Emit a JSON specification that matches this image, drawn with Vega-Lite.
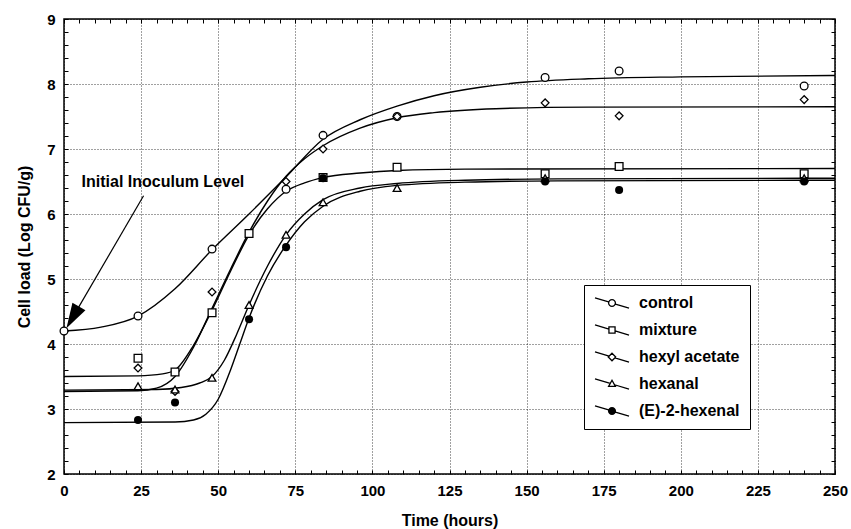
{
  "$schema": "https://vega.github.io/schema/vega-lite/v6.json",
  "width": 771,
  "height": 455,
  "autosize": {"type": "none"},
  "padding": {"left": 64, "top": 19, "right": 16, "bottom": 55},
  "background": "white",
  "config": {
    "view": {"stroke": "black", "strokeWidth": 1.5},
    "font": "Liberation Sans",
    "axis": {
      "labelFont": "Liberation Sans", "labelFontWeight": "bold", "labelFontSize": 15, "labelColor": "black",
      "titleFont": "Liberation Sans", "titleFontWeight": "bold", "titleFontSize": 16, "titleColor": "black",
      "domain": false, "labelFlush": false
    }
  },
  "datasets": {
    "curves": [
      {"series": "control", "t": 0, "v": 4.2}, {"series": "control", "t": 12, "v": 4.26}, {"series": "control", "t": 24, "v": 4.43},
      {"series": "control", "t": 36, "v": 4.85}, {"series": "control", "t": 48, "v": 5.45}, {"series": "control", "t": 60, "v": 6.0},
      {"series": "control", "t": 72, "v": 6.57}, {"series": "control", "t": 84, "v": 7.15}, {"series": "control", "t": 96, "v": 7.45},
      {"series": "control", "t": 108, "v": 7.66}, {"series": "control", "t": 120, "v": 7.82}, {"series": "control", "t": 135, "v": 7.95},
      {"series": "control", "t": 150, "v": 8.03}, {"series": "control", "t": 170, "v": 8.08}, {"series": "control", "t": 200, "v": 8.11},
      {"series": "control", "t": 250, "v": 8.13},
      {"series": "mixture", "t": 0, "v": 3.5}, {"series": "mixture", "t": 24, "v": 3.51}, {"series": "mixture", "t": 32, "v": 3.54},
      {"series": "mixture", "t": 36, "v": 3.6}, {"series": "mixture", "t": 42, "v": 3.98}, {"series": "mixture", "t": 48, "v": 4.52},
      {"series": "mixture", "t": 54, "v": 5.12}, {"series": "mixture", "t": 60, "v": 5.68}, {"series": "mixture", "t": 66, "v": 6.08},
      {"series": "mixture", "t": 72, "v": 6.35}, {"series": "mixture", "t": 78, "v": 6.48}, {"series": "mixture", "t": 84, "v": 6.56},
      {"series": "mixture", "t": 96, "v": 6.63}, {"series": "mixture", "t": 108, "v": 6.67}, {"series": "mixture", "t": 130, "v": 6.69},
      {"series": "mixture", "t": 250, "v": 6.7},
      {"series": "hexyl acetate", "t": 0, "v": 3.27}, {"series": "hexyl acetate", "t": 24, "v": 3.28}, {"series": "hexyl acetate", "t": 30, "v": 3.32},
      {"series": "hexyl acetate", "t": 36, "v": 3.5}, {"series": "hexyl acetate", "t": 42, "v": 3.95}, {"series": "hexyl acetate", "t": 48, "v": 4.55},
      {"series": "hexyl acetate", "t": 54, "v": 5.15}, {"series": "hexyl acetate", "t": 60, "v": 5.72}, {"series": "hexyl acetate", "t": 66, "v": 6.2},
      {"series": "hexyl acetate", "t": 72, "v": 6.58}, {"series": "hexyl acetate", "t": 78, "v": 6.85}, {"series": "hexyl acetate", "t": 84, "v": 7.05},
      {"series": "hexyl acetate", "t": 96, "v": 7.32}, {"series": "hexyl acetate", "t": 108, "v": 7.48}, {"series": "hexyl acetate", "t": 120, "v": 7.56},
      {"series": "hexyl acetate", "t": 140, "v": 7.62}, {"series": "hexyl acetate", "t": 170, "v": 7.645}, {"series": "hexyl acetate", "t": 250, "v": 7.65},
      {"series": "hexanal", "t": 0, "v": 3.29}, {"series": "hexanal", "t": 30, "v": 3.3}, {"series": "hexanal", "t": 38, "v": 3.33},
      {"series": "hexanal", "t": 44, "v": 3.4}, {"series": "hexanal", "t": 48, "v": 3.5}, {"series": "hexanal", "t": 52, "v": 3.75},
      {"series": "hexanal", "t": 56, "v": 4.15}, {"series": "hexanal", "t": 60, "v": 4.6}, {"series": "hexanal", "t": 66, "v": 5.2},
      {"series": "hexanal", "t": 72, "v": 5.68}, {"series": "hexanal", "t": 78, "v": 6.0}, {"series": "hexanal", "t": 84, "v": 6.22},
      {"series": "hexanal", "t": 96, "v": 6.4}, {"series": "hexanal", "t": 108, "v": 6.47}, {"series": "hexanal", "t": 130, "v": 6.52},
      {"series": "hexanal", "t": 160, "v": 6.54}, {"series": "hexanal", "t": 250, "v": 6.55},
      {"series": "(E)-2-hexenal", "t": 0, "v": 2.79}, {"series": "(E)-2-hexenal", "t": 36, "v": 2.8}, {"series": "(E)-2-hexenal", "t": 42, "v": 2.83},
      {"series": "(E)-2-hexenal", "t": 46, "v": 2.92}, {"series": "(E)-2-hexenal", "t": 50, "v": 3.15}, {"series": "(E)-2-hexenal", "t": 54, "v": 3.6},
      {"series": "(E)-2-hexenal", "t": 57, "v": 4.0}, {"series": "(E)-2-hexenal", "t": 60, "v": 4.4}, {"series": "(E)-2-hexenal", "t": 66, "v": 5.05},
      {"series": "(E)-2-hexenal", "t": 72, "v": 5.52}, {"series": "(E)-2-hexenal", "t": 78, "v": 5.88}, {"series": "(E)-2-hexenal", "t": 84, "v": 6.12},
      {"series": "(E)-2-hexenal", "t": 96, "v": 6.35}, {"series": "(E)-2-hexenal", "t": 108, "v": 6.44}, {"series": "(E)-2-hexenal", "t": 130, "v": 6.49},
      {"series": "(E)-2-hexenal", "t": 160, "v": 6.51}, {"series": "(E)-2-hexenal", "t": 250, "v": 6.52}
    ],
    "points": [
      {"series": "control", "t": 0, "v": 4.2}, {"series": "control", "t": 24, "v": 4.43}, {"series": "control", "t": 48, "v": 5.46},
      {"series": "control", "t": 72, "v": 6.38}, {"series": "control", "t": 84, "v": 7.21}, {"series": "control", "t": 108, "v": 7.5},
      {"series": "control", "t": 156, "v": 8.1}, {"series": "control", "t": 180, "v": 8.2}, {"series": "control", "t": 240, "v": 7.97},
      {"series": "mixture", "t": 24, "v": 3.78}, {"series": "mixture", "t": 36, "v": 3.57}, {"series": "mixture", "t": 48, "v": 4.48},
      {"series": "mixture", "t": 60, "v": 5.7}, {"series": "mixture", "t": 84, "v": 6.56}, {"series": "mixture", "t": 108, "v": 6.72},
      {"series": "mixture", "t": 156, "v": 6.62}, {"series": "mixture", "t": 180, "v": 6.73}, {"series": "mixture", "t": 240, "v": 6.62},
      {"series": "hexyl acetate", "t": 24, "v": 3.63}, {"series": "hexyl acetate", "t": 36, "v": 3.27}, {"series": "hexyl acetate", "t": 48, "v": 4.8},
      {"series": "hexyl acetate", "t": 72, "v": 6.5}, {"series": "hexyl acetate", "t": 84, "v": 7.0}, {"series": "hexyl acetate", "t": 108, "v": 7.5},
      {"series": "hexyl acetate", "t": 156, "v": 7.71}, {"series": "hexyl acetate", "t": 180, "v": 7.51}, {"series": "hexyl acetate", "t": 240, "v": 7.76},
      {"series": "hexanal", "t": 24, "v": 3.35}, {"series": "hexanal", "t": 36, "v": 3.3}, {"series": "hexanal", "t": 48, "v": 3.48},
      {"series": "hexanal", "t": 60, "v": 4.6}, {"series": "hexanal", "t": 72, "v": 5.68}, {"series": "hexanal", "t": 84, "v": 6.18},
      {"series": "hexanal", "t": 108, "v": 6.4}, {"series": "hexanal", "t": 156, "v": 6.55}, {"series": "hexanal", "t": 240, "v": 6.55},
      {"series": "(E)-2-hexenal", "t": 24, "v": 2.83}, {"series": "(E)-2-hexenal", "t": 36, "v": 3.1}, {"series": "(E)-2-hexenal", "t": 60, "v": 4.38},
      {"series": "(E)-2-hexenal", "t": 72, "v": 5.49}, {"series": "(E)-2-hexenal", "t": 84, "v": 6.55}, {"series": "(E)-2-hexenal", "t": 156, "v": 6.5},
      {"series": "(E)-2-hexenal", "t": 180, "v": 6.37}, {"series": "(E)-2-hexenal", "t": 240, "v": 6.5}
    ],
    "note": [{"label": "Initial Inoculum Level", "t": 5.7, "v": 6.5}],
    "arrow": [{"t": 25.8, "v": 6.28, "t2": 2.82, "v2": 4.41}]
  },
  "resolve": {"axis": {"x": "independent", "y": "independent"}, "scale": {"shape": "independent"}},
  "layer": [
    {
      "data": {"name": "curves"},
      "mark": {"type": "line", "interpolate": "monotone", "color": "black", "strokeWidth": 1.4},
      "encoding": {
        "x": {"field": "t", "type": "quantitative", "scale": {"domain": [0, 250], "nice": false},
          "axis": {"orient": "bottom", "values": [0, 25, 50, 75, 100, 125, 150, 175, 200, 225, 250], "ticks": false, "grid": true,
            "gridDash": [1, 2], "gridColor": "black", "gridOpacity": 0.75, "gridWidth": 1, "labelPadding": 9, "title": "Time (hours)", "titlePadding": 14}},
        "y": {"field": "v", "type": "quantitative", "scale": {"domain": [2, 9], "nice": false, "zero": false},
          "axis": {"orient": "left", "values": [2, 3, 4, 5, 6, 7, 8, 9], "ticks": false, "grid": true,
            "gridDash": [1, 2], "gridColor": "black", "gridOpacity": 0.75, "gridWidth": 1, "labelPadding": 9, "title": "Cell load (Log CFU/g)", "titlePadding": 14}},
        "detail": {"field": "series"}
      }
    },
    {
      "data": {"name": "points"},
      "transform": [{"filter": "datum.series !== '(E)-2-hexenal'"}],
      "mark": {"type": "point", "filled": true, "fill": "white", "stroke": "black", "strokeWidth": 1.3, "size": 60, "opacity": 1},
      "encoding": {
        "x": {"field": "t", "type": "quantitative", "scale": {"domain": [0, 250], "nice": false},
          "axis": {"orient": "bottom", "values": [0,5,10,15,20,25,30,35,40,45,50,55,60,65,70,75,80,85,90,95,100,105,110,115,120,125,130,135,140,145,150,155,160,165,170,175,180,185,190,195,200,205,210,215,220,225,230,235,240,245,250],
            "labels": false, "grid": false, "ticks": true, "tickSize": -4, "tickColor": "black", "tickWidth": 1, "title": null}},
        "y": {"field": "v", "type": "quantitative", "scale": {"domain": [2, 9], "nice": false, "zero": false},
          "axis": {"orient": "left", "values": [2,2.2,2.4,2.6,2.8,3,3.2,3.4,3.6,3.8,4,4.2,4.4,4.6,4.8,5,5.2,5.4,5.6,5.8,6,6.2,6.4,6.6,6.8,7,7.2,7.4,7.6,7.8,8,8.2,8.4,8.6,8.8,9],
            "labels": false, "grid": false, "ticks": true, "tickSize": -4, "tickColor": "black", "tickWidth": 1, "title": null}},
        "shape": {"field": "series", "type": "nominal",
          "scale": {"domain": ["control", "mixture", "hexyl acetate", "hexanal"], "range": ["circle", "square", "diamond", "triangle-up"]},
          "legend": null}
      }
    },
    {
      "data": {"name": "points"},
      "transform": [{"filter": "datum.series === '(E)-2-hexenal'"}],
      "mark": {"type": "point", "shape": "circle", "filled": true, "color": "black", "size": 65, "opacity": 1},
      "encoding": {
        "x": {"field": "t", "type": "quantitative", "scale": {"domain": [0, 250], "nice": false},
          "axis": {"orient": "top", "values": [0,5,10,15,20,25,30,35,40,45,50,55,60,65,70,75,80,85,90,95,100,105,110,115,120,125,130,135,140,145,150,155,160,165,170,175,180,185,190,195,200,205,210,215,220,225,230,235,240,245,250],
            "labels": false, "grid": false, "ticks": true, "tickSize": -4, "tickColor": "black", "tickWidth": 1, "title": null}},
        "y": {"field": "v", "type": "quantitative", "scale": {"domain": [2, 9], "nice": false, "zero": false},
          "axis": {"orient": "right", "values": [2,2.2,2.4,2.6,2.8,3,3.2,3.4,3.6,3.8,4,4.2,4.4,4.6,4.8,5,5.2,5.4,5.6,5.8,6,6.2,6.4,6.6,6.8,7,7.2,7.4,7.6,7.8,8,8.2,8.4,8.6,8.8,9],
            "labels": false, "grid": false, "ticks": true, "tickSize": -4, "tickColor": "black", "tickWidth": 1, "title": null}}
      }
    },
    {
      "data": {"name": "points"},
      "mark": {"type": "point", "filled": false, "color": "black", "strokeWidth": 1.3, "size": 196, "opacity": 0},
      "encoding": {
        "x": {"field": "t", "type": "quantitative", "scale": {"domain": [0, 250], "nice": false}, "axis": null},
        "y": {"field": "v", "type": "quantitative", "scale": {"domain": [2, 9], "nice": false, "zero": false}, "axis": null},
        "shape": {"field": "series", "type": "nominal",
          "scale": {"domain": ["control", "mixture", "hexyl acetate", "hexanal", "(E)-2-hexenal"],
            "range": [
              "M-2.43,-0.73L-0.488,-0.146M0.488,0.146L2.43,0.73M0.486,0A0.486,0.486,0,1,1,-0.486,0A0.486,0.486,0,1,1,0.486,0Z",
              "M-2.43,-0.73L-0.437,-0.131M0.437,0.131L2.43,0.73M-0.437,-0.437L0.437,-0.437L0.437,0.437L-0.437,0.437Z",
              "M-2.43,-0.73L-0.41,-0.124M0.41,0.124L2.43,0.73M0,-0.534L0.534,0L0,0.534L-0.534,0Z",
              "M-2.43,-0.73L-0.255,-0.075M0.357,0.107L2.43,0.73M0,-0.534L0.486,0.34L-0.486,0.34Z",
              "M-2.43,-0.73L-0.488,-0.146M0.488,0.146L2.43,0.73M0.486,0A0.486,0.486,0,1,1,-0.486,0A0.486,0.486,0,1,1,0.486,0ZM0.34,0A0.34,0.34,0,1,1,-0.34,0A0.34,0.34,0,1,1,0.34,0ZM0.194,0A0.194,0.194,0,1,1,-0.194,0A0.194,0.194,0,1,1,0.194,0ZM0.073,0A0.073,0.073,0,1,1,-0.073,0A0.073,0.073,0,1,1,0.073,0Z"
            ]},
          "legend": {"orient": "none", "legendX": 520, "legendY": 266, "title": null, "strokeColor": "black", "fillColor": "white",
            "padding": 10, "labelFont": "Liberation Sans", "labelFontWeight": "bold", "labelFontSize": 16, "labelColor": "black",
            "labelOffset": 19, "symbolOffset": 10, "symbolSize": 196, "symbolStrokeWidth": 1.3, "symbolStrokeColor": "black", "symbolOpacity": 1,
            "rowPadding": 11, "labelLimit": 0}}
      }
    },
    {
      "data": {"name": "note"},
      "mark": {"type": "text", "align": "left", "baseline": "middle", "font": "Liberation Sans", "fontWeight": "bold", "fontSize": 16, "color": "black"},
      "encoding": {
        "x": {"field": "t", "type": "quantitative", "scale": {"domain": [0, 250], "nice": false}, "axis": null},
        "y": {"field": "v", "type": "quantitative", "scale": {"domain": [2, 9], "nice": false, "zero": false}, "axis": null},
        "text": {"field": "label"}
      }
    },
    {
      "data": {"name": "arrow"},
      "mark": {"type": "rule", "color": "black", "strokeWidth": 1.2},
      "encoding": {
        "x": {"field": "t", "type": "quantitative", "scale": {"domain": [0, 250], "nice": false}, "axis": null},
        "y": {"field": "v", "type": "quantitative", "scale": {"domain": [2, 9], "nice": false, "zero": false}, "axis": null},
        "x2": {"field": "t2"},
        "y2": {"field": "v2"}
      }
    },
    {
      "data": {"name": "arrow"},
      "mark": {"type": "point", "shape": "M0,-1L0.6,1L-0.6,1Z", "filled": true, "color": "black", "size": 625, "angle": 210, "opacity": 1},
      "encoding": {
        "x": {"field": "t2", "type": "quantitative", "scale": {"domain": [0, 250], "nice": false}, "axis": null},
        "y": {"field": "v2", "type": "quantitative", "scale": {"domain": [2, 9], "nice": false, "zero": false}, "axis": null}
      }
    }
  ]
}
